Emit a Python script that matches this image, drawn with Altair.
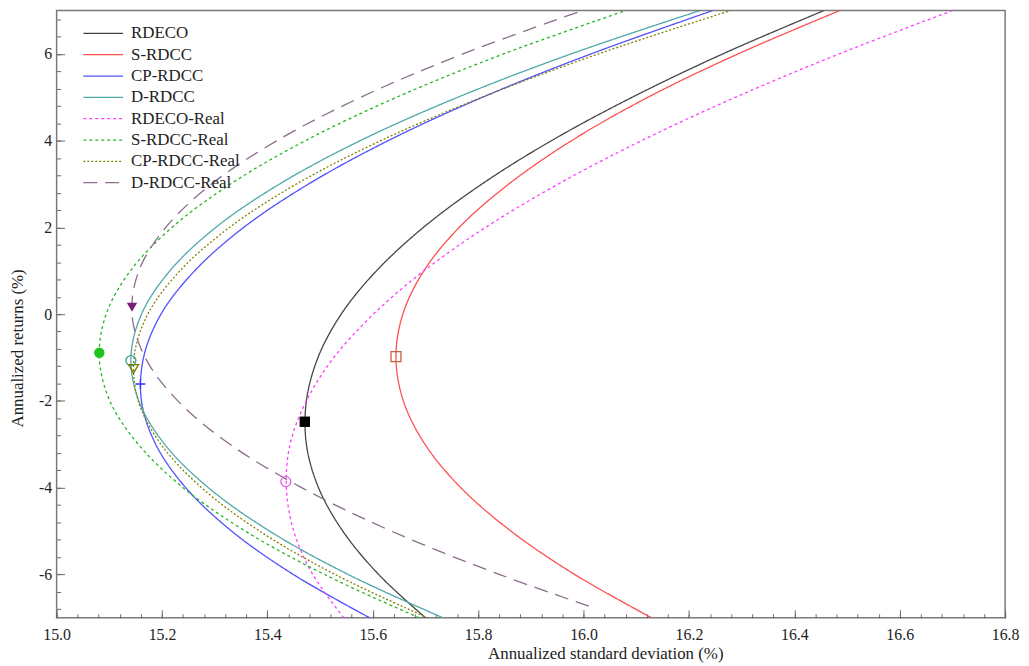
import altair as alt
import pandas as pd

SERIES = ["RDECO", "S-RDCC", "CP-RDCC", "D-RDCC",
          "RDECO-Real", "S-RDCC-Real", "CP-RDCC-Real", "D-RDCC-Real"]
COLORS = ["#454545", "#ff4f4f", "#5050ff", "#4fa8a8",
          "#ff3cff", "#22b522", "#808000", "#8c6c8c"]
DASHES = [[1, 0], [1, 0], [1, 0], [1, 0], [3, 3], [3, 3], [2, 2], [14, 8]]
WIDTHS = [1.3, 1.3, 1.3, 1.3, 1.6, 1.8, 2.0, 1.5]

# returns (%) levels at which each frontier was read
Y_COMMON = [-7, -6, -5, -4, -3, -2, -1, 0, 1, 2, 3, 4, 5, 6, 7]
Y_DRDCC_REAL = [-6.73, -6, -5, -4, -3, -2, -1, 0, 1, 2, 3, 4, 5, 6, 7]

# annualized standard deviation (%)
rdeco_x = [15.700, 15.611, 15.543, 15.497, 15.474, 15.474, 15.496, 15.540,
           15.607, 15.696, 15.807, 15.939, 16.092, 16.264, 16.456]
srdcc_x = [16.129, 15.983, 15.862, 15.767, 15.699, 15.658, 15.644, 15.657,
           15.697, 15.764, 15.858, 15.977, 16.122, 16.293, 16.486]
cprdcc_x = [15.594, 15.449, 15.332, 15.245, 15.188, 15.161, 15.165, 15.198,
            15.262, 15.355, 15.478, 15.629, 15.808, 16.014, 16.245]
drdcc_x = [15.733, 15.553, 15.404, 15.288, 15.205, 15.156, 15.141, 15.161,
           15.215, 15.302, 15.423, 15.576, 15.761, 15.976, 16.221]
rdeco_real_x = [15.545, 15.486, 15.450, 15.436, 15.443, 15.474, 15.526, 15.601,
                15.697, 15.814, 15.952, 16.110, 16.288, 16.485, 16.700]
srdcc_real_x = [15.688, 15.508, 15.358, 15.240, 15.155, 15.101, 15.081, 15.094,
                15.140, 15.219, 15.330, 15.472, 15.645, 15.848, 16.080]
cprdcc_real_x = [15.704, 15.528, 15.385, 15.275, 15.198, 15.155, 15.147, 15.173,
                 15.234, 15.328, 15.455, 15.615, 15.807, 16.028, 16.279]
drdcc_real_x = [16.010, 15.840, 15.635, 15.465, 15.329, 15.230, 15.168, 15.143,
                15.156, 15.207, 15.294, 15.418, 15.577, 15.771, 15.998]

# minimum-variance markers
filled_series = ["RDECO", "S-RDCC-Real", "D-RDCC-Real"]
filled_x = [15.471, 15.081, 15.143]
filled_y = [-2.48, -0.89, 0.16]
filled_shape = ["square", "circle", "triangle-down"]
filled_color = ["#000000", "#1cc41c", "#7a1f7a"]

open_series = ["S-RDCC", "CP-RDCC", "D-RDCC", "RDECO-Real", "CP-RDCC-Real"]
open_x = [15.644, 15.159, 15.141, 15.435, 15.146]
open_y = [-0.98, -1.61, -1.07, -3.86, -1.26]
open_shape = ["square", "M-1,0H1M0,-1V1", "circle", "circle", "triangle-down"]
open_color = ["#c06040", "#3030ff", "#3fa0a0", "#e060e0", "#7a7a00"]

X_MAJOR = [round(15.0 + 0.2 * i, 1) for i in range(10)]
X_MINOR = [round(15.0 + 0.04 * i, 2) for i in range(46)]
Y_LABELS = [-6, -4, -2, 0, 2, 4, 6]
Y_MINOR = [round(-6.8 + 0.4 * i, 1) for i in range(35)]

W, H = 956, 612
FONT = "Liberation Serif"

rows = []
curves = [
    ("RDECO", Y_COMMON, rdeco_x), ("S-RDCC", Y_COMMON, srdcc_x),
    ("CP-RDCC", Y_COMMON, cprdcc_x), ("D-RDCC", Y_COMMON, drdcc_x),
    ("RDECO-Real", Y_COMMON, rdeco_real_x), ("S-RDCC-Real", Y_COMMON, srdcc_real_x),
    ("CP-RDCC-Real", Y_COMMON, cprdcc_real_x), ("D-RDCC-Real", Y_DRDCC_REAL, drdcc_real_x),
]
for name, ys, xs in curves:
    for i, (xv, yv) in enumerate(zip(xs, ys)):
        rows.append({"series": name, "sd": xv, "ret": yv, "i": i})
lines_df = pd.DataFrame(rows)

filled_df = pd.DataFrame({"series": filled_series, "sd": filled_x, "ret": filled_y,
                          "shape": filled_shape, "mcolor": filled_color})
open_df = pd.DataFrame({"series": open_series, "sd": open_x, "ret": open_y,
                        "shape": open_shape, "mcolor": open_color})

xscale = alt.Scale(domain=[15.0, 16.8], nice=False, zero=False)
yscale = alt.Scale(domain=[-7, 7], nice=False, zero=False)


def make_legend():
    return alt.Legend(orient="none", legendX=36, legendY=12, title=None,
                      symbolType="M-2,0H2", symbolSize=400,
                      symbolStrokeWidth=1.5, labelFont=FONT,
                      labelFontSize=17, labelColor="#222",
                      labelOffset=17, rowPadding=2.5, padding=0)


lines = alt.Chart(lines_df).mark_line(interpolate="catmull-rom", clip=True).encode(
    x=alt.X("sd:Q", scale=xscale, axis=alt.Axis(
        values=X_MAJOR, labelExpr="format(datum.value, '.1f')", ticks=False,
        domain=False, grid=False, labelPadding=9, labelFlush=False,
        title="Annualized standard deviation (%)", titleX=553, titleY=36,
        titleBaseline="middle", titleAlign="center")),
    y=alt.Y("ret:Q", scale=yscale, axis=alt.Axis(
        values=Y_LABELS, labelExpr="'' + datum.value", ticks=False,
        domain=False, grid=False, labelPadding=5, labelFlush=False,
        title="Annualized returns (%)", titleX=-39, titleY=340, titleAngle=270,
        titleBaseline="middle", titleAlign="center")),
    color=alt.Color("series:N", scale=alt.Scale(domain=SERIES, range=COLORS),
                    legend=make_legend()),
    strokeDash=alt.StrokeDash("series:N", scale=alt.Scale(domain=SERIES, range=DASHES),
                              legend=make_legend()),
    strokeWidth=alt.StrokeWidth("series:N", scale=alt.Scale(domain=SERIES, range=WIDTHS),
                                legend=None),
    order="i:Q",
)

filled = alt.Chart(filled_df).mark_point(filled=True, size=110, opacity=1).encode(
    x=alt.X("sd:Q", scale=xscale, axis=alt.Axis(
        orient="top", offset=-H, values=X_MAJOR, tickSize=8, labels=False,
        domain=False, grid=False, title=None, tickColor="#666")),
    y=alt.Y("ret:Q", scale=yscale, axis=alt.Axis(
        orient="right", offset=-W, values=Y_LABELS, tickSize=8, labels=False,
        domain=False, grid=False, title=None, tickColor="#666")),
    shape=alt.Shape("shape:N", scale=None),
    color=alt.Color("mcolor:N", scale=None),
)

opened = alt.Chart(open_df).mark_point(filled=False, size=100, strokeWidth=1.3,
                                       opacity=1).encode(
    x=alt.X("sd:Q", scale=xscale, axis=alt.Axis(
        orient="top", offset=-H, values=X_MINOR, tickSize=4, labels=False,
        domain=False, grid=False, title=None, tickColor="#666")),
    y=alt.Y("ret:Q", scale=yscale, axis=alt.Axis(
        orient="right", offset=-W, values=Y_MINOR, tickSize=4, labels=False,
        domain=False, grid=False, title=None, tickColor="#666")),
    shape=alt.Shape("shape:N", scale=None),
    color=alt.Color("mcolor:N", scale=None),
)

chart = alt.layer(lines, filled, opened).resolve_axis(
    x="independent", y="independent"
).properties(
    width=W, height=H,
    autosize=alt.AutoSizeParams(type="none"),
    padding={"left": 49, "top": 0, "right": 16, "bottom": 46},
).configure_view(
    stroke="#7a7a7a", strokeWidth=1.5
).configure_axis(
    labelFont=FONT, labelFontSize=16, labelColor="#222",
    titleFont=FONT, titleFontSize=17, titleFontWeight="normal", titleColor="#222",
)

chart.save("out.html", embed_options={"renderer": "svg", "actions": False})
